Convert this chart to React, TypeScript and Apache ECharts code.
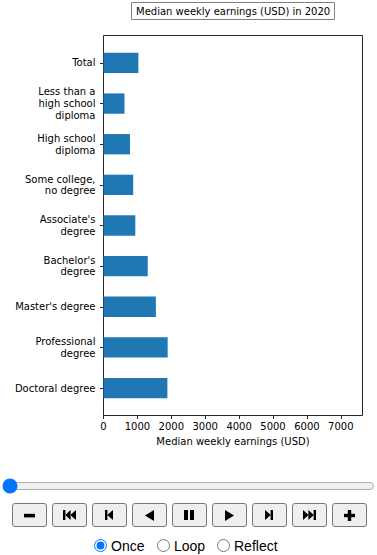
import React, { useEffect, useRef } from "react";
import * as echarts from "echarts";

const YEAR = 2020;
const CATEGORIES = [
  "Total",
  "Less than a\nhigh school\ndiploma",
  "High school\ndiploma",
  "Some college,\nno degree",
  "Associate's\ndegree",
  "Bachelor's\ndegree",
  "Master's degree",
  "Professional\ndegree",
  "Doctoral degree",
];
const EARNINGS = [1029, 619, 781, 877, 938, 1305, 1545, 1893, 1885];
const X_TICKS = [0, 1000, 2000, 3000, 4000, 5000, 6000, 7000];
const X_MAX = 7640;
const PLAY_MODES = ["Once", "Loop", "Reflect"];

const FONT = "DejaVu Sans";
const INK = "#000";
const SPINE = "#262626";

const FRAME = { left: 103.5, top: 35.5, width: 259, height: 380 };
const CAT_MARGIN = 0.675;

function Icon({ kind }: { kind: string }) {
  const f = "#000";
  let content: React.ReactNode = null;
  let w = 12;
  let h = 11;
  switch (kind) {
    case "minus":
      w = 11; h = 11;
      content = <rect x={0} y={3.8} width={11} height={3.6} fill={f} />;
      break;
    case "plus":
      w = 11; h = 11;
      content = (
        <g fill={f}>
          <rect x={0} y={3.8} width={11} height={3.4} />
          <rect x={3.8} y={0} width={3.4} height={11} />
        </g>
      );
      break;
    case "first":
      w = 13; h = 10;
      content = (
        <g fill={f}>
          <rect x={0} y={0} width={2.4} height={10} />
          <polygon points="2.2,5 7.6,0 7.6,10" />
          <polygon points="7.4,5 13,0 13,10" />
        </g>
      );
      break;
    case "prev":
      w = 8; h = 10;
      content = (
        <g fill={f}>
          <rect x={0} y={0} width={2.4} height={10} />
          <polygon points="2.2,5 8,0 8,10" />
        </g>
      );
      break;
    case "reverse":
      w = 9; h = 11;
      content = <polygon points="0,5.5 9,0 9,11" fill={f} />;
      break;
    case "pause":
      w = 10; h = 10;
      content = (
        <g fill={f}>
          <rect x={0} y={0} width={4} height={10} />
          <rect x={6} y={0} width={4} height={10} />
        </g>
      );
      break;
    case "play":
      w = 9; h = 11;
      content = <polygon points="0,0 9,5.5 0,11" fill={f} />;
      break;
    case "next":
      w = 8; h = 10;
      content = (
        <g fill={f}>
          <polygon points="0,0 5.8,5 0,10" />
          <rect x={5.6} y={0} width={2.4} height={10} />
        </g>
      );
      break;
    case "last":
      w = 13; h = 10;
      content = (
        <g fill={f}>
          <polygon points="0,0 5.6,5 0,10" />
          <polygon points="5.4,0 10.8,5 5.4,10" />
          <rect x={10.6} y={0} width={2.4} height={10} />
        </g>
      );
      break;
  }
  return (
    <svg width={w} height={h} viewBox={`0 0 ${w} ${h}`} style={{ display: "block" }}>
      {content}
    </svg>
  );
}

const BUTTONS = ["minus", "first", "prev", "reverse", "pause", "play", "next", "last", "plus"];

export default function App() {
  const ref = useRef<HTMLDivElement>(null);

  useEffect(() => {
    if (!ref.current) return;
    const chart = echarts.init(ref.current, undefined, { renderer: "svg" });
    const n = CATEGORIES.length;
    const perCat = FRAME.height / ((n - 1) + 2 * CAT_MARGIN);
    const dataTop = FRAME.top + (CAT_MARGIN - 0.5) * perCat;
    const dataHeight = n * perCat;

    const axisText = { fontFamily: FONT, fontSize: 10, color: INK };

    chart.setOption({
      animation: false,
      title: {
        text: `Median weekly earnings (USD) in ${YEAR}`,
        left: 131,
        top: 2,
        padding: [4, 5, 4, 5],
        borderColor: "#808080",
        borderWidth: 1,
        textStyle: { fontFamily: FONT, fontSize: 10, fontWeight: "normal", color: INK },
      },
      grid: [
        {
          left: FRAME.left,
          top: FRAME.top,
          width: FRAME.width,
          height: FRAME.height,
          show: true,
          borderColor: SPINE,
          borderWidth: 1,
          backgroundColor: "transparent",
          containLabel: false,
        },
        {
          left: FRAME.left,
          top: dataTop,
          width: FRAME.width,
          height: dataHeight,
          containLabel: false,
        },
      ],
      xAxis: [
        {
          type: "value",
          gridIndex: 0,
          min: 0,
          max: X_MAX,
          position: "bottom",
          name: "Median weekly earnings (USD)",
          nameLocation: "middle",
          nameGap: 20,
          nameTextStyle: axisText,
          axisLine: { show: false },
          axisTick: {
            show: true,
            length: 3.5,
            customValues: X_TICKS,
            lineStyle: { color: SPINE, width: 1 },
          },
          axisLabel: {
            ...axisText,
            margin: 6,
            customValues: X_TICKS,
            formatter: (v: number) => String(v),
          },
          splitLine: { show: false },
        },
        {
          type: "value",
          gridIndex: 1,
          min: 0,
          max: X_MAX,
          show: false,
          splitLine: { show: false },
        },
      ],
      yAxis: [
        {
          type: "value",
          gridIndex: 0,
          show: false,
          min: 0,
          max: 1,
          splitLine: { show: false },
        },
        {
          type: "category",
          gridIndex: 1,
          data: CATEGORIES,
          inverse: true,
          axisLine: { show: false },
          axisTick: {
            show: true,
            alignWithLabel: true,
            length: 3.5,
            lineStyle: { color: SPINE, width: 1 },
          },
          axisLabel: { ...axisText, margin: 8, lineHeight: 11.7, interval: 0, align: "right" },
          splitLine: { show: false },
        },
      ],
      series: [
        {
          type: "bar",
          xAxisIndex: 1,
          yAxisIndex: 1,
          data: EARNINGS,
          barWidth: "50%",
          itemStyle: { color: "#1f77b4" },
        },
      ],
    });
    return () => chart.dispose();
  }, []);

  return (
    <div style={{ position: "absolute", left: 0, top: 0, width: 377, height: 555, background: "#fff", overflow: "hidden" }}>
      <div ref={ref} style={{ position: "absolute", left: 0, top: 0, width: 377, height: 460 }} />
      <input
        type="range"
        min={0}
        max={100}
        defaultValue={0}
        style={{ position: "absolute", left: 2, top: 478, width: 373, margin: 0 }}
      />
      {BUTTONS.map((b, i) => (
        <button
          key={b}
          style={{
            position: "absolute",
            left: 11.5 + 40 * i,
            top: 503,
            width: 35.5,
            height: 24,
            boxSizing: "border-box",
            background: "#efefef",
            border: "1px solid #767676",
            borderRadius: 3,
            padding: 0,
            display: "flex",
            alignItems: "center",
            justifyContent: "center",
          }}
        >
          <Icon kind={b} />
        </button>
      ))}
      {PLAY_MODES.map((m, i) => (
        <label
          key={m}
          style={{
            position: "absolute",
            left: [94, 157, 217][i],
            top: 537,
            height: 17,
            display: "flex",
            alignItems: "center",
            fontFamily: "Liberation Sans, Arial, sans-serif",
            fontSize: 14,
            color: "#000",
            whiteSpace: "nowrap",
          }}
        >
          <input
            type="radio"
            name="playmode"
            defaultChecked={i === 0}
            style={{ margin: 0, width: 13, height: 13 }}
          />
          <span style={{ marginLeft: 4 }}>{m}</span>
        </label>
      ))}
    </div>
  );
}
